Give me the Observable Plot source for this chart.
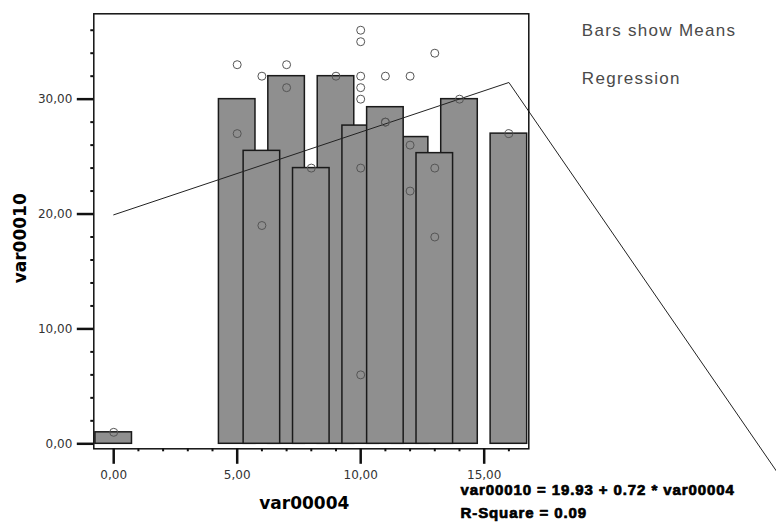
<!DOCTYPE html>
<html>
<head>
<meta charset="utf-8">
<script src="https://cdn.jsdelivr.net/npm/d3@7"></script>
<script src="https://cdn.jsdelivr.net/npm/@observablehq/plot@0.6"></script>
<style>
  html, body { margin: 0; padding: 0; background: #fff; }
  #chart { width: 776px; height: 522px; overflow: hidden; }
</style>
</head>
<body>
<div id="chart"></div>
<script>
// Bars (means of var00010 per var00004), listed in drawing order
const barX    = [0, 5, 7, 9, 10, 12, 14, 16, 6, 8, 11, 13];
const barMean = [1, 30, 32, 32, 27.7, 26.7, 30, 27, 25.5, 24, 29.3, 25.3];

// Individual observations (var00004, var00010)
const pointX = [0, 5, 5, 6, 6, 7, 7, 8, 9, 10, 10, 10, 10, 10, 10, 10, 11, 11, 11, 12, 12, 12, 13, 13, 13, 14, 16];
const pointY = [1, 33, 27, 32, 19, 33, 31, 24, 32, 36, 35, 32, 31, 30, 24, 6, 32, 28, 28, 32, 26, 22, 34, 24, 18, 30, 27];

// Regression line vertices as drawn
const regX = [0, 16, 27];
const regY = [19.93, 31.45, -2.9];

// Ticks
const yMajor = [0, 10, 20, 30];
const yMinor = [2, 4, 6, 8, 12, 14, 16, 18, 22, 24, 26, 28, 32, 34, 36];
const xMajor = [0, 5, 10, 15];
const xMinor = [1, 2, 3, 4, 6, 7, 8, 9, 11, 12, 13, 14, 16];

// Texts
const xTitle = "var00004";
const yTitle = "var00010";
const legendLines = ["Bars show Means", "Regression"];
const equationLines = ["var00010 = 19.93 + 0.72 * var00004", "R-Square = 0.09"];

const bars = barX.map((x, i) => ({x, mean: barMean[i]}));
const points = pointX.map((x, i) => ({x, y: pointY[i]}));
const reg = regX.map((x, i) => ({x, y: regY[i]}));
const halfWidth = 0.74;
const fmt = d => d.toFixed(2).replace(".", ",");

const chart = Plot.plot({
  width: 776,
  height: 522,
  marginLeft: 93.3,
  marginRight: 247.7,
  marginTop: 13.3,
  marginBottom: 73.7,
  style: {background: "#fff", fontFamily: "DejaVu Sans, sans-serif"},
  x: {domain: [-0.806, 16.806]},
  y: {domain: [-0.435, 37.43]},
  marks: [
    Plot.rect(bars, {x1: d => d.x - halfWidth, x2: d => d.x + halfWidth, y1: 0, y2: "mean",
      fill: "#8f8f8f", stroke: "#1a1a1a", strokeWidth: 1.5}),
    Plot.line(reg, {x: "x", y: "y", stroke: "#222", strokeWidth: 1}),
    Plot.dot(points, {x: "x", y: "y", r: 4, fill: "none", stroke: "#555", strokeWidth: 1}),
    Plot.frame({stroke: "#111", strokeWidth: 1.5}),
    Plot.axisY(yMajor, {tickSize: 16.5, tickPadding: 5, tickFormat: fmt, strokeWidth: 2.5,
      stroke: "#111", fill: "#333", fontSize: 12, label: null}),
    Plot.axisY(yMinor, {tickSize: 3, tickFormat: () => "", strokeWidth: 2, stroke: "#111", label: null}),
    Plot.axisX(xMajor, {tickSize: 15.5, tickPadding: 6, tickFormat: fmt, strokeWidth: 2.5,
      stroke: "#111", fill: "#333", fontSize: 12, label: null}),
    Plot.axisX(xMinor, {tickSize: 3, tickFormat: () => "", strokeWidth: 2, stroke: "#111", label: null}),
    Plot.text([yTitle], {text: d => d, frameAnchor: "left", rotate: -90, dx: -73, dy: 7,
      textAnchor: "middle", fontSize: 17, fontWeight: "bold", fill: "#000", lineAnchor: "middle"}),
    Plot.text([xTitle], {text: d => d, frameAnchor: "bottom", dx: -7, dy: 54.7,
      textAnchor: "middle", fontSize: 17, fontWeight: "bold", fill: "#000", lineAnchor: "middle"}),
    Plot.text([legendLines[0]], {text: d => d, frameAnchor: "top-right", dx: 53, dy: 22.5,
      textAnchor: "start", lineAnchor: "bottom", fontSize: 17, fill: "#4a4a4a",
      fontFamily: "Liberation Sans, Arial, sans-serif"}),
    Plot.text([legendLines[1]], {text: d => d, frameAnchor: "top-right", dx: 53, dy: 70.2,
      textAnchor: "start", lineAnchor: "bottom", fontSize: 17, fill: "#4a4a4a",
      fontFamily: "Liberation Sans, Arial, sans-serif"}),
    Plot.text([equationLines[0]], {text: d => d, frameAnchor: "bottom-right", dx: -68.3, dy: 46.5,
      textAnchor: "start", lineAnchor: "bottom", fontSize: 15, fontWeight: "bold", fill: "#000",
      stroke: "#000", strokeWidth: 0.7, fontFamily: "Liberation Sans, Arial, sans-serif"}),
    Plot.text([equationLines[1]], {text: d => d, frameAnchor: "bottom-right", dx: -68.3, dy: 69,
      textAnchor: "start", lineAnchor: "bottom", fontSize: 15, fontWeight: "bold", fill: "#000",
      stroke: "#000", strokeWidth: 0.7, fontFamily: "Liberation Sans, Arial, sans-serif"})
  ]
});

d3.select(chart).selectAll("text").each(function() {
  if (legendLines.includes(this.textContent)) this.style.letterSpacing = "1.3px";
  if (equationLines.includes(this.textContent)) this.style.letterSpacing = "0.9px";
});

document.getElementById("chart").appendChild(chart);
</script>
</body>
</html>
